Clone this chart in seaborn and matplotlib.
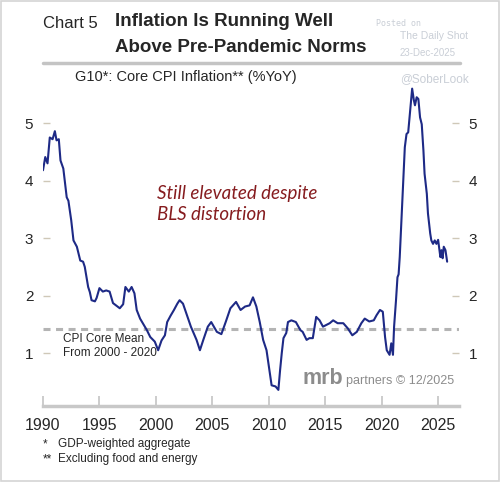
import matplotlib
matplotlib.use("Agg")
import matplotlib.pyplot as plt
from matplotlib.lines import Line2D
from matplotlib.patches import Rectangle
import pandas as pd
import seaborn as sns

# values
years = [
    1990.0, 1990.2, 1990.4, 1990.6, 1990.85, 1991.05, 1991.2, 1991.4, 1991.55, 1991.8,
    1992.1, 1992.25, 1992.5, 1992.7, 1993.0, 1993.3, 1993.55, 1993.7, 1994.0, 1994.15,
    1994.3, 1994.6, 1994.75, 1995.0, 1995.3, 1995.6, 1995.9, 1996.2, 1996.8, 1997.1,
    1997.3, 1997.6, 1997.85, 1998.1, 1998.3, 1998.6, 1998.9, 1999.2, 1999.5, 1999.9,
    2000.2, 2000.5, 2000.8, 2001.0, 2001.3, 2001.6, 2001.9, 2002.1, 2002.4, 2002.7,
    2003.1, 2003.6, 2003.9, 2004.2, 2004.6, 2004.9, 2005.4, 2005.8, 2006.2, 2006.6,
    2007.1, 2007.5, 2007.9, 2008.3, 2008.6, 2008.9, 2009.2, 2009.5, 2009.8, 2010.1,
    2010.25, 2010.6, 2010.85, 2011.0, 2011.15, 2011.3, 2011.55, 2011.7, 2012.0, 2012.4,
    2012.8, 2013.0, 2013.35, 2013.6, 2013.9, 2014.2, 2014.5, 2014.8, 2015.1, 2015.4,
    2015.7, 2016.1, 2016.6, 2017.0, 2017.4, 2017.8, 2018.2, 2018.5, 2018.9, 2019.3,
    2019.55, 2019.85, 2020.1, 2020.3, 2020.45, 2020.7, 2020.85, 2021.0, 2021.1, 2021.27,
    2021.4, 2021.5, 2021.6, 2021.75, 2021.9, 2022.05, 2022.2, 2022.35, 2022.55, 2022.7,
    2022.85, 2022.95, 2023.1, 2023.25, 2023.4, 2023.55, 2023.7, 2023.8, 2024.0, 2024.1,
    2024.3, 2024.4, 2024.55, 2024.7, 2024.85, 2025.0, 2025.2, 2025.3, 2025.4, 2025.5,
    2025.65, 2025.8,
]
core_cpi = [
    4.18, 4.41, 4.30, 4.75, 4.72, 4.86, 4.70, 4.72, 4.35, 4.21,
    3.71, 3.65, 3.31, 2.96, 2.85, 2.61, 2.59, 2.50, 2.15, 2.06,
    1.92, 1.90, 1.96, 2.13, 2.07, 2.09, 2.07, 1.87, 1.78, 1.85,
    2.15, 2.07, 2.15, 2.04, 1.75, 1.60, 1.50, 1.40, 1.28, 1.20,
    1.05, 1.22, 1.31, 1.54, 1.65, 1.75, 1.86, 1.92, 1.86, 1.69,
    1.46, 1.23, 1.05, 1.23, 1.46, 1.54, 1.37, 1.33, 1.55, 1.78,
    1.89, 1.75, 1.81, 1.83, 1.97, 1.81, 1.54, 1.23, 1.05, 0.65,
    0.44, 0.42, 0.36, 0.70, 1.00, 1.26, 1.35, 1.54, 1.57, 1.54,
    1.40, 1.37, 1.23, 1.26, 1.26, 1.63, 1.57, 1.46, 1.49, 1.52,
    1.57, 1.52, 1.52, 1.43, 1.31, 1.37, 1.52, 1.60, 1.55, 1.57,
    1.66, 1.75, 1.72, 1.28, 1.05, 0.97, 1.17, 0.97, 1.46, 1.92,
    2.32, 2.37, 2.67, 3.31, 3.95, 4.58, 4.81, 4.84, 5.28, 5.60,
    5.40, 5.31, 5.45, 5.42, 5.10, 4.98, 4.52, 4.12, 3.77, 3.43,
    3.08, 2.96, 2.90, 2.96, 2.90, 2.97, 2.67, 2.79, 2.65, 2.85,
    2.79, 2.59,
]
pre_pandemic_mean = 1.42
x_ticks = [1990, 1995, 2000, 2005, 2010, 2015, 2020, 2025]
y_ticks = [1, 2, 3, 4, 5]

df = pd.DataFrame({"year": years, "cpi": core_cpi})

sns.set_style("white")
plt.rcParams["font.family"] = ["Liberation Sans", "DejaVu Sans"]

W, H = 500, 482
fig = plt.figure(figsize=(W / 100, H / 100), dpi=100)


def fx(x):
    return x / W


def fy(y):
    return 1 - y / H


ax = fig.add_axes([fx(43), fy(406), fx(459) - fx(43), fy(80) - fy(406)])

ax.axhline(pre_pandemic_mean, color="#b4b4b4", lw=2.2, ls=(0, (2.3, 1.8)), zorder=1)
sns.lineplot(data=df, x="year", y="cpi", ax=ax, color="#1e2a86", lw=1.5, zorder=3)

ax.set_xlim(1990, 2026.85)
ax.set_ylim(0.08, 5.75)
ax.set_xticks(x_ticks)
ax.set_yticks(y_ticks)
ax.set_xlabel("")
ax.set_ylabel("")

for s in ["top", "left", "right"]:
    ax.spines[s].set_visible(False)
ax.spines["bottom"].set_color("#c8c8c8")
ax.spines["bottom"].set_linewidth(2.5)

ax.tick_params(axis="x", direction="in", length=7, width=1.3, color="#c8c8c8",
               pad=9, labelsize=11.5, bottom=True)
ax.tick_params(axis="y", direction="in", length=5, width=1.0, color="#cfc8b8",
               pad=7, labelsize=11, left=True, right=True,
               labelleft=True, labelright=True)

# header
fig.text(fx(43), fy(24), "Chart 5", fontsize=12, va="center", ha="left")
fig.text(fx(115), fy(22), "Inflation Is Running Well", fontsize=13.5,
         fontweight="bold", va="center", ha="left")
fig.text(fx(115), fy(48), "Above Pre-Pandemic Norms", fontsize=13.5,
         fontweight="bold", va="center", ha="left")
fig.add_artist(Line2D([fx(43), fx(460)], [fy(63), fy(63)], color="#c4c4c4", lw=2.5))
fig.text(fx(75), fy(77), "G10*: Core CPI Inflation** (%YoY)", fontsize=10.5,
         va="center", ha="left")

# watermark
wm = "#c9ced6"
fig.text(fx(376), fy(23), "Posted on", fontsize=6, color=wm, family="DejaVu Sans Mono",
         va="center")
fig.text(fx(400), fy(36), "The Daily Shot", fontsize=7.5, color=wm, va="center")
fig.text(fx(400), fy(53), "23-Dec-2025", fontsize=7, color=wm, va="center")
fig.text(fx(400), fy(79), "@SoberLook", fontsize=8.5, color=wm, va="center")

# annotations
fig.text(fx(157), fy(193), "Still elevated despite", fontsize=13.5, style="italic",
         color="#861c1f", family="Lato", va="center")
fig.text(fx(157), fy(215), "BLS distortion", fontsize=13.5, style="italic",
         color="#861c1f", family="Lato", va="center")
fig.text(fx(63), fy(339), "CPI Core Mean", fontsize=8.5, va="center")
fig.text(fx(63), fy(353), "From 2000 - 2020", fontsize=8.5, va="center")

fig.text(fx(302), fy(384), "mrb", fontsize=15.5, fontweight="bold", color="#8c8c8c",
         va="baseline")
fig.text(fx(346), fy(384), "partners \u00a9 12/2025", fontsize=9, color="#8c8c8c",
         va="baseline")

# footnotes
fig.text(fx(43), fy(444), "*", fontsize=8.5, va="center")
fig.text(fx(58), fy(444), "GDP-weighted aggregate", fontsize=8.5, va="center")
fig.text(fx(43), fy(459), "**", fontsize=8.5, va="center")
fig.text(fx(58), fy(459), "Excluding food and energy", fontsize=8.5, va="center")

fig.add_artist(Rectangle((0.002, 0.002), 0.996, 0.996, transform=fig.transFigure,
                         fill=False, edgecolor="#d4d4d4", lw=1.2))

fig.savefig("out.png", dpi=100)
